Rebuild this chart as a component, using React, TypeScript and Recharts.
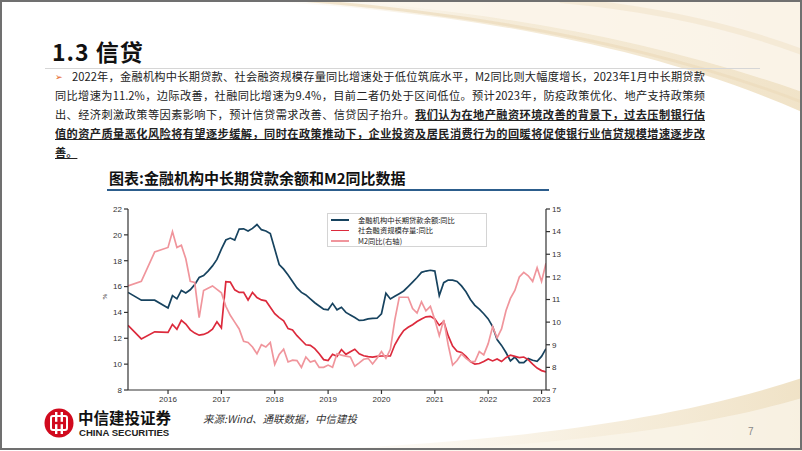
import React from "react";
import { LineChart, Line, XAxis, YAxis } from "recharts";

// month-end positions, Mar 2015 .. Jan 2023 (early 2015 data is quarterly)
const months = [
  "2015-03", "2015-04", "2015-05", "2015-06", "2015-07", "2015-08", "2015-09", "2015-10", "2015-11", "2015-12",
  "2016-01", "2016-02", "2016-03", "2016-04", "2016-05", "2016-06", "2016-07", "2016-08", "2016-09", "2016-10", "2016-11", "2016-12",
  "2017-01", "2017-02", "2017-03", "2017-04", "2017-05", "2017-06", "2017-07", "2017-08", "2017-09", "2017-10", "2017-11", "2017-12",
  "2018-01", "2018-02", "2018-03", "2018-04", "2018-05", "2018-06", "2018-07", "2018-08", "2018-09", "2018-10", "2018-11", "2018-12",
  "2019-01", "2019-02", "2019-03", "2019-04", "2019-05", "2019-06", "2019-07", "2019-08", "2019-09", "2019-10", "2019-11", "2019-12",
  "2020-01", "2020-02", "2020-03", "2020-04", "2020-05", "2020-06", "2020-07", "2020-08", "2020-09", "2020-10", "2020-11", "2020-12",
  "2021-01", "2021-02", "2021-03", "2021-04", "2021-05", "2021-06", "2021-07", "2021-08", "2021-09", "2021-10", "2021-11", "2021-12",
  "2022-01", "2022-02", "2022-03", "2022-04", "2022-05", "2022-06", "2022-07", "2022-08", "2022-09", "2022-10", "2022-11", "2022-12",
  "2023-01",
];

// 金融机构中长期贷款余额:同比 (left axis)
const loanYoY = [
  15.55, null, null, 14.95, null, null, 14.95, null, null, 14.35,
  15.3, 15.05, 15.7, 15.5, 15.75, 16.15, 16.7, 16.85, 17.2, 17.6, 18.1, 18.9,
  19.6, 19.75, 19.6, 20.45, 20.47, 20.3, 20.5, 20.8, 20.4, 20.3, 20.1, 18.9,
  17.7, 17.35, 16.9, 16.4, 15.9, 15.55, 15.35, 15.05, 14.75, 14.5, 14.25, 14.2,
  14.7, 14.2, 14.4, 14.0, 13.8, 13.6, 13.38, 13.4, 13.5, 13.54, 13.55, 13.9,
  15.48, 15.04, 15.25, 15.45, 15.66, 16.0, 16.35, 16.7, 17.1, 17.2, 17.26, 17.2,
  15.3, 16.3, 16.5, 16.5, 16.4, 16.05, 15.6, 15.0, 14.55, 14.25, 13.9, 13.5,
  12.9, 11.9, 11.45, 10.9, 10.25, 10.55, 10.12, 10.12, 10.43, 10.3, 10.22, 10.6,
  11.2,
];

// 社会融资规模存量:同比 (left axis)
const tsfYoY = [
  13.0, null, null, 11.95, null, null, 12.5, null, null, 12.45,
  13.07, 12.7, 13.38, 13.1, 12.65, 12.4, 12.24, 12.3, 12.45, 12.7, 13.27, 12.8,
  16.38, 16.35, 15.75, 15.55, 15.55, 14.96, 15.55, 15.15, 14.97, 14.9, 14.4, 13.9,
  13.6, 13.35, 12.75, 12.65, 12.2, 11.85, 11.5, 11.45, 11.2, 10.8, 10.35, 10.28,
  10.76, 10.6, 11.13, 10.76, 10.95, 11.15, 10.8, 10.65, 10.58, 10.55, 10.6, 10.63,
  10.63, 10.63, 11.5, 12.1, 12.6, 12.85, 13.05, 13.3, 13.5, 13.66, 13.7, 13.5,
  13.0, 13.3, 12.2, 11.4, 11.0, 10.9, 10.6, 10.2, 10.0, 10.05, 10.2, 10.4,
  10.25, 10.4, 10.2, 10.5, 10.7, 10.6, 10.5, 10.55, 10.35, 10.0, 9.7, 9.5,
  9.4,
];

// M2同比 (right axis)
const m2YoY = [
  11.6, null, null, 11.8, null, null, 13.1, null, null, 13.3,
  14.0, 13.3, 13.4, 12.8, 11.8, 11.75, 10.2, 11.4, 11.5, 11.6, 11.45, 11.3,
  10.7, 10.3, 10.0, 9.7, 9.15, 9.1, 8.9, 8.6, 9.0, 8.9, 9.1, 8.13,
  8.57, 8.8, 8.24, 8.32, 8.3, 8.0, 8.46, 8.24, 8.3, 8.0, 8.0, 8.1,
  8.0, 8.6, 8.54, 8.5, 8.46, 8.05, 8.2, 8.36, 8.4, 8.15, 8.4, 8.7,
  8.4, 8.8, 10.1, 11.1, 11.1, 11.1, 10.6, 10.4, 10.9, 10.5, 10.7, 10.1,
  9.4, 10.1, 9.0, 8.1, 8.3, 8.6, 8.4, 8.25, 8.25, 8.7, 8.55, 9.05,
  9.8, 9.3, 9.7, 10.5, 11.05, 11.4, 12.0, 12.2, 12.05, 11.8, 12.4, 11.8,
  12.6,
];

const yearTicks = [2016, 2017, 2018, 2019, 2020, 2021, 2022, 2023];
const leftTicks = [8, 10, 12, 14, 16, 18, 20, 22];
const rightTicks = [7, 8, 9, 10, 11, 12, 13, 14, 15];

const series = [
  { key: "loan", name: "金融机构中长期贷款余额:同比", color: "#17435f", axis: "left" },
  { key: "tsf", name: "社会融资规模存量:同比", color: "#dc2a3c", axis: "left" },
  { key: "m2", name: "M2同比(右轴)", color: "#f0959c", axis: "right" },
];

const data = months.map((m, i) => ({
  t: Number(m.slice(0, 4)) + Number(m.slice(5)) / 12,
  loan: loanYoY[i],
  tsf: tsfYoY[i],
  m2: m2YoY[i],
}));

const cjk = '"Noto Sans CJK SC", "Noto Sans", sans-serif';
const axisColor = "#333";
const tickStyle = { fontSize: 8, fill: "#333", fontFamily: "Liberation Sans, Arial, sans-serif" };

const paraLine: React.CSSProperties = {
  position: "absolute",
  whiteSpace: "nowrap",
  fontFamily: cjk,
  fontSize: 11.2,
  lineHeight: "19px",
  color: "#222",
  textAlign: "justify",
  textAlignLast: "justify",
};
const strong: React.CSSProperties = { fontWeight: 700, textDecoration: "underline" };

function Logo() {
  return (
    <svg width={30} height={30} viewBox="0 0 30 30" style={{ position: "absolute", left: 44, top: 408 }}>
      <circle cx={15} cy={15} r={14.5} fill="#d10a1e" />
      <rect x={7} y={8} width={16} height={14} rx={2} fill="none" stroke="#fff" strokeWidth={2} />
      <rect x={11} y={4} width={2.4} height={22} fill="#fff" />
      <rect x={16.6} y={4} width={2.4} height={22} fill="#fff" />
      <rect x={11} y={13.8} width={8} height={2.4} fill="#d10a1e" />
    </svg>
  );
}

function ChartLegend() {
  return (
    <div
      style={{
        position: "absolute",
        left: 327,
        top: 213,
        width: 160,
        height: 34,
        border: "1px solid #d4d4d4",
        background: "#fff",
        boxSizing: "border-box",
        paddingTop: 0.5,
      }}
    >
      {series.map((s) => (
        <div key={s.key} style={{ display: "flex", alignItems: "center", height: 10.7 }}>
          <div style={{ width: 18, height: 1.6, background: s.color, marginLeft: 3, marginRight: 9 }} />
          <span style={{ fontFamily: cjk, fontSize: 7.3, lineHeight: "10.6px", color: "#222" }}>{s.name}</span>
        </div>
      ))}
    </div>
  );
}

export default function App() {
  return (
    <div style={{ position: "absolute", left: 0, top: 0, width: 802, height: 451, background: "#fff", overflow: "hidden" }}>
      <style>{`body{margin:0}`}</style>
      <svg width={802} height={451} style={{ position: "absolute", left: 0, top: 0 }}>
        <defs>
          <linearGradient id="creamTop" x1="0" y1="0" x2="1" y2="0">
            <stop offset="0%" stopColor="#f6eddc" stopOpacity={0} />
            <stop offset="45%" stopColor="#f3e7cf" stopOpacity={0.8} />
            <stop offset="100%" stopColor="#efe0c2" stopOpacity={0.9} />
          </linearGradient>
          <linearGradient id="creamBot" x1="0" y1="0" x2="1" y2="0">
            <stop offset="0%" stopColor="#f6eddc" stopOpacity={0} />
            <stop offset="60%" stopColor="#f3e7cf" stopOpacity={0.7} />
            <stop offset="100%" stopColor="#eedfc0" stopOpacity={0.9} />
          </linearGradient>
        </defs>
        <path d="M 240 0 C 430 8 640 40 802 112 L 802 0 Z" fill="url(#creamTop)" />
        <path d="M 330 0 C 500 12 660 42 802 92 L 802 0 Z" fill="#fbf6ec" opacity={0.85} />
        <path d="M 300 0 C 480 14 650 44 802 102" fill="none" stroke="#eddcbc" strokeWidth={3} opacity={0.7} />
        <path d="M 560 0 C 650 8 730 25 802 52" fill="none" stroke="#f2e6cf" strokeWidth={6} opacity={0.7} />
        <path d="M 280 451 C 480 444 660 425 802 378 L 802 451 Z" fill="url(#creamBot)" />
        <path d="M 380 451 C 560 446 700 428 802 398 L 802 451 Z" fill="#fbf6ec" opacity={0.7} />
      </svg>

      <div style={{ position: "absolute", left: 52, top: 38, fontFamily: cjk, fontSize: 23, fontWeight: 700, lineHeight: "26px", color: "#111", letterSpacing: 1 }}>
        1.3 信贷
      </div>
      <div style={{ position: "absolute", left: 45, top: 68, width: 715, height: 1, background: "#d6d6d6" }} />

      <div style={{ position: "absolute", left: 55, top: 68, fontFamily: "DejaVu Sans", fontSize: 9, lineHeight: "19px", color: "#e5601a" }}>➢</div>
      <div style={{ ...paraLine, left: 72, top: 67, width: 633 }}>
        2022年，金融机构中长期贷款、社会融资规模存量同比增速处于低位筑底水平，M2同比则大幅度增长，2023年1月中长期贷款
      </div>
      <div style={{ ...paraLine, left: 55, top: 86, width: 650 }}>
        同比增速为11.2%，边际改善，社融同比增速为9.4%，目前二者仍处于区间低位。预计2023年，防疫政策优化、地产支持政策频
      </div>
      <div style={{ ...paraLine, left: 55, top: 105, width: 650 }}>
        出、经济刺激政策等因素影响下，预计信贷需求改善、信贷因子抬升。<span style={strong}>我们认为在地产融资环境改善的背景下，过去压制银行估</span>
      </div>
      <div style={{ ...paraLine, ...strong, left: 55, top: 124, width: 650 }}>
        值的资产质量恶化风险将有望逐步缓解，同时在政策推动下，企业投资及居民消费行为的回暖将促使银行业信贷规模增速逐步改
      </div>
      <div style={{ ...paraLine, ...strong, left: 55, top: 143, textAlignLast: "left" }}>善。</div>

      <div style={{ position: "absolute", left: 109, top: 168, fontFamily: cjk, fontSize: 15, fontWeight: 700, lineHeight: "20px", color: "#111" }}>
        图表:金融机构中长期贷款余额和M2同比数据
      </div>
      <div style={{ position: "absolute", left: 107, top: 189, width: 442, height: 2, background: "#2c5d8c" }} />

      <div style={{ position: "absolute", left: 100, top: 200 }}>
        <LineChart width={480} height={210} data={data} margin={{ top: 9, right: 0, bottom: 2, left: 0 }}>
          <XAxis
            dataKey="t"
            type="number"
            domain={[2015.25, 2023 + 1 / 12]}
            ticks={yearTicks}
            allowDataOverflow
            height={18}
            tickSize={4}
            tick={tickStyle}
            stroke={axisColor}
            strokeWidth={1.2}
          />
          <XAxis
            xAxisId="top"
            dataKey="t"
            type="number"
            orientation="top"
            domain={[2015.25, 2023 + 1 / 12]}
            height={0}
            tick={false}
            tickLine={false}
            stroke={axisColor}
            strokeWidth={1.2}
          />
          <YAxis
            yAxisId="left"
            domain={[8, 22]}
            ticks={leftTicks}
            width={28}
            tickSize={4}
            tick={tickStyle}
            stroke={axisColor}
            strokeWidth={1.2}
            label={{ value: "%", angle: -90, position: "insideLeft", offset: 5, style: { fontSize: 7, fill: "#333" } }}
          />
          <YAxis
            yAxisId="right"
            orientation="right"
            domain={[7, 15]}
            ticks={rightTicks}
            width={34}
            tickSize={4}
            tick={tickStyle}
            stroke={axisColor}
            strokeWidth={1.2}
          />
          {series.map((s) => (
            <Line
              key={s.key}
              yAxisId={s.axis}
              dataKey={s.key}
              name={s.name}
              type="linear"
              stroke={s.color}
              strokeWidth={1.7}
              dot={false}
              connectNulls
              isAnimationActive={false}
            />
          ))}
        </LineChart>
      </div>
      <ChartLegend />

      <Logo />
      <div style={{ position: "absolute", left: 78, top: 408, fontFamily: cjk, fontSize: 15.5, fontWeight: 700, lineHeight: "19px", color: "#111" }}>
        中信建投证券
      </div>
      <div style={{ position: "absolute", left: 79, top: 427, fontFamily: "Liberation Sans, Arial", fontSize: 9.6, fontWeight: 700, lineHeight: "12px", color: "#222" }}>
        CHINA SECURITIES
      </div>
      <div style={{ position: "absolute", left: 203, top: 412, fontFamily: cjk, fontSize: 10.5, fontStyle: "italic", lineHeight: "14px", color: "#333" }}>
        来源:Wind、通联数据，中信建投
      </div>
      <div style={{ position: "absolute", left: 748, top: 426, fontFamily: "Liberation Sans, Arial", fontSize: 10, color: "#888" }}>7</div>

      <div style={{ position: "absolute", left: 0, top: 0, width: 802, height: 450, border: "2px solid #707070", boxSizing: "border-box", pointerEvents: "none" }} />
    </div>
  );
}
